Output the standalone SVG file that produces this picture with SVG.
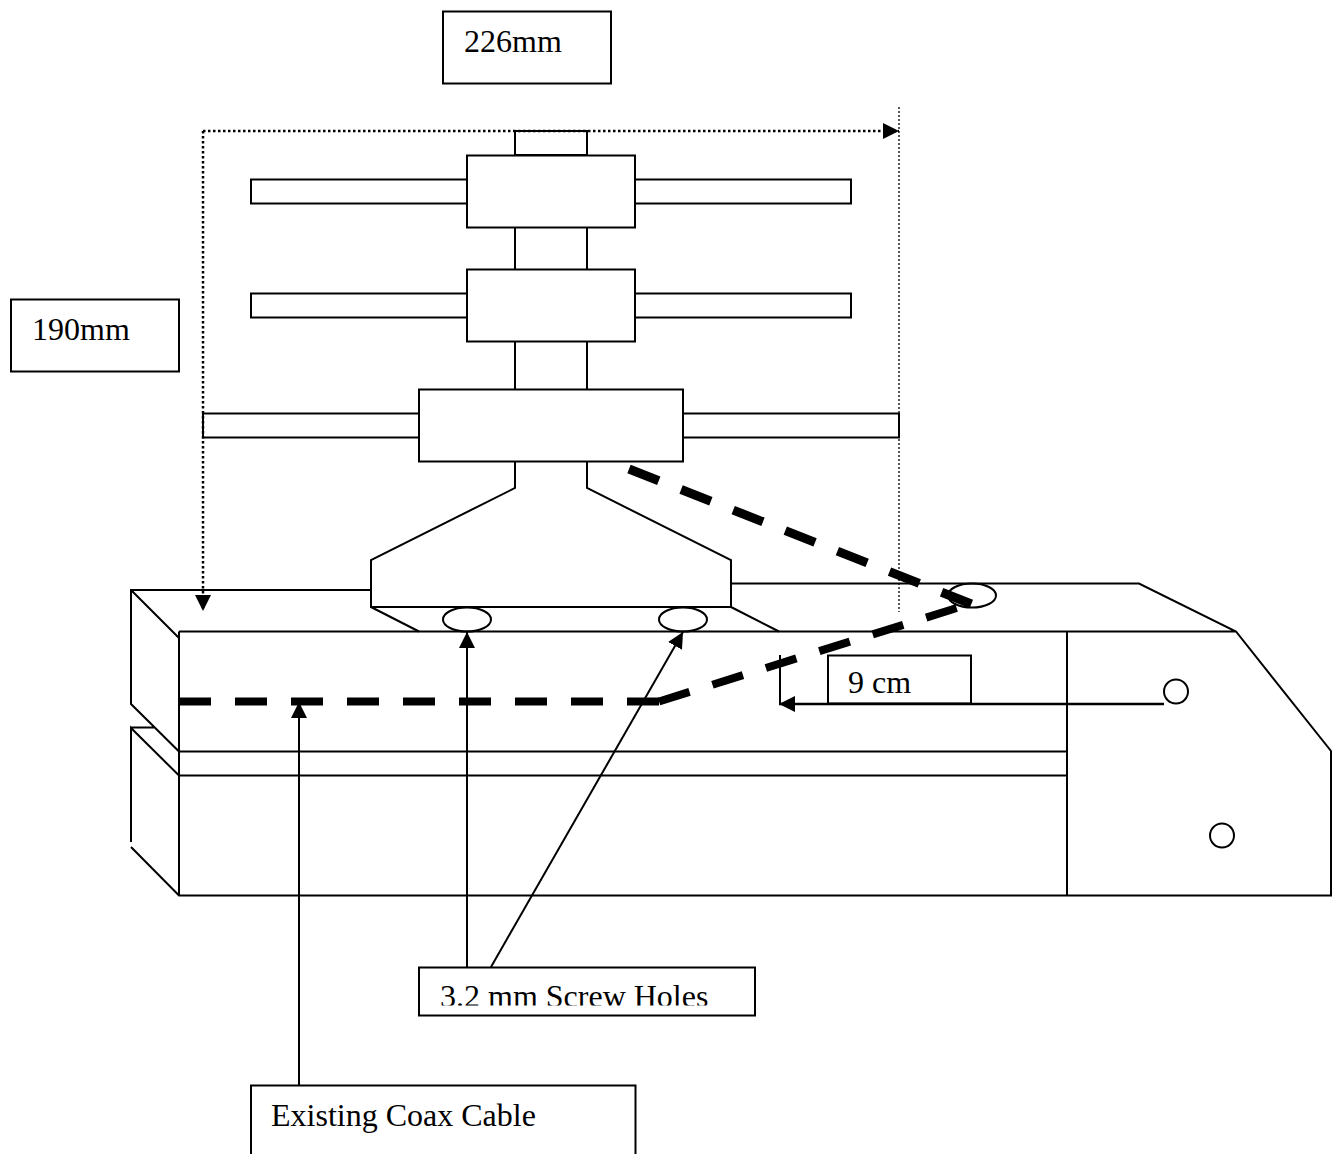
<svg xmlns="http://www.w3.org/2000/svg" width="1337" height="1154" viewBox="0 0 1337 1154">
<style>
.s{fill:none;stroke:#000;stroke-width:2}
.b{fill:#fff;stroke:#000;stroke-width:2}
.c{fill:none;stroke:#000;stroke-width:8;stroke-dasharray:32 24}
.d{fill:none;stroke:#000;stroke-width:2.500;stroke-dasharray:2.500 2.500}
.t{font-family:"Liberation Serif","Times New Roman",serif;font-size:32px;fill:#000}
</style>
<defs>
<marker id="ah" markerUnits="userSpaceOnUse" markerWidth="16" markerHeight="16" refX="16" refY="8" orient="auto"><path d="M0 0L16 8L0 16Z" fill="#000"/></marker>
<clipPath id="screwclip"><rect x="420" y="968" width="334" height="37.500"/></clipPath>
</defs>
<rect width="1337" height="1154" fill="#fff"/>
<g id="base">
<path class="s" d="M371 590H131V704L179 751.5M131 590L179 638M179 631.5H1236M179 631.5V895.5M179 751.5H1067M131 727.5H155M131 842V728L179 775.5H1067M131 847L179 895.5H1331V751L1236 631.5L1139 583.5H731M1067 631.5V895.5"/>
</g>
<g id="mount">
<path class="s" d="M515 461V488L371 560V607H731V560L587 488V461M371 607L419 631.5M731 607L779 631.5"/>
</g>
<g id="antenna">
<rect class="b" x="515" y="131" width="72" height="24"/>
<rect class="b" x="251" y="179.500" width="216" height="24"/>
<rect class="b" x="635" y="179.500" width="216" height="24"/>
<rect class="b" x="467" y="155.500" width="168" height="72"/>
<path class="s" d="M515 228V269M587 228V269M515 341V389M587 341V389"/>
<rect class="b" x="251" y="293.500" width="216" height="24"/>
<rect class="b" x="635" y="293.500" width="216" height="24"/>
<rect class="b" x="467" y="269.500" width="168" height="72"/>
<rect class="b" x="203" y="413.500" width="216" height="24"/>
<rect class="b" x="683" y="413.500" width="216" height="24"/>
<rect class="b" x="419" y="389.500" width="264" height="72"/>
</g>
<g id="holes">
<ellipse class="s" cx="467" cy="619.500" rx="24" ry="12"/>
<ellipse class="s" cx="683" cy="619.500" rx="24" ry="12"/>
<ellipse class="s" cx="972" cy="595.500" rx="24" ry="12"/>
<circle class="s" cx="1176" cy="691.500" r="12"/>
<circle class="s" cx="1222" cy="835.500" r="12"/>
</g>
<g id="label-226"><rect class="s" x="443" y="11.500" width="168" height="72"/><text class="t" x="464" y="52">226mm</text></g>
<g id="label-190"><rect class="s" x="11" y="299.500" width="168" height="72"/><text class="t" x="32" y="340">190mm</text></g>
<g id="label-9cm"><rect class="s" x="828" y="655.500" width="143" height="48"/><text class="t" x="848" y="693">9 cm</text></g>
<g id="label-screw"><rect class="s" x="419" y="967.500" width="336" height="48"/><text class="t" x="440" y="1007" clip-path="url(#screwclip)">3.2 mm Screw Holes</text></g>
<g id="label-coax"><path class="s" d="M251 1154V1085.500H635.500V1154"/><text class="t" x="271" y="1126">Existing Coax Cable</text></g>
<g id="connectors">
<path class="d" d="M203 131H899" marker-end="url(#ah)"/>
<path class="d" d="M203 131V611" marker-end="url(#ah)"/>
<path class="s" style="stroke-dasharray:2 2;stroke-width:1.300" d="M899 107V612"/>
<path class="s" d="M467 967V632" marker-end="url(#ah)"/>
<path class="s" d="M491 967L683 632" marker-end="url(#ah)"/>
<path class="s" d="M299 1085V702" marker-end="url(#ah)"/>
<path class="s" style="stroke-width:2.500" d="M1164 704H779" marker-end="url(#ah)"/>
<path class="s" d="M780 655V704"/>
<path class="c" d="M179 701.500H659"/>
<path class="c" d="M659 701.500L960 607"/>
<path class="c" style="stroke-width:9" d="M629 469L974 605"/>
</g>
</svg>
